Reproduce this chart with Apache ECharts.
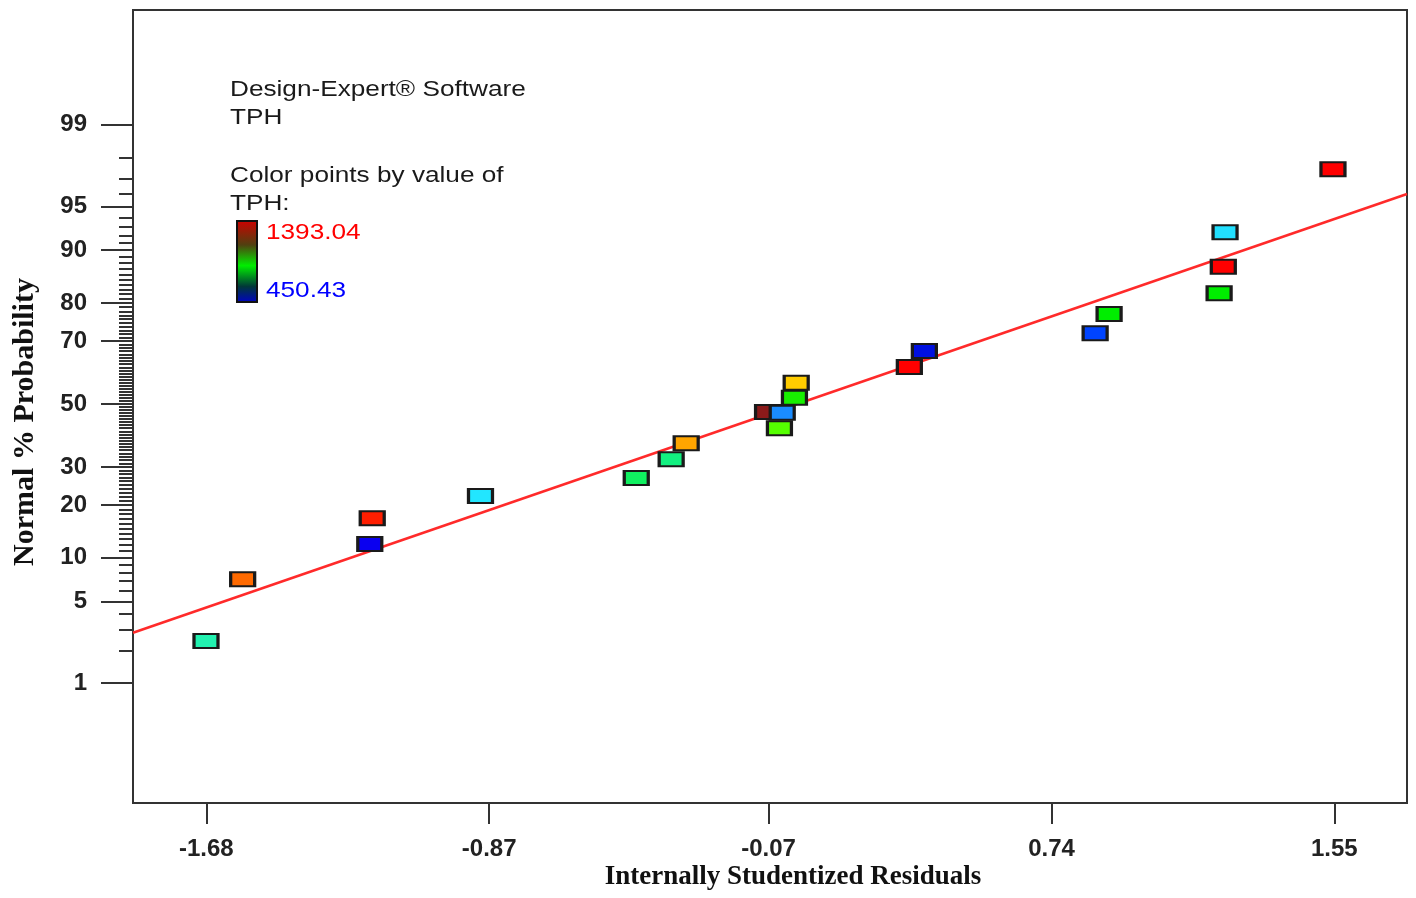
<!DOCTYPE html>
<html>
<head>
<meta charset="utf-8">
<script src="https://cdn.jsdelivr.net/npm/echarts@6/dist/echarts.min.js"></script>
<style>html,body{margin:0;padding:0;background:#fff;}#chart{width:1416px;height:898px;}</style>
</head>
<body>
<div id="chart"></div>
<script>
// ---- data ----
const residuals = [-1.681, -1.576, -1.205, -1.212, -0.895, -0.449, -0.349, -0.306, -0.073, -0.031, -0.039, 0.004, 0.009, 0.333, 0.376, 0.865, 0.905, 1.220, 1.232, 1.237, 1.546];
const probabilities = [2.41, 7.20, 17.04, 12.17, 22.16, 26.87, 32.25, 37.16, 47.34, 47.11, 41.98, 52.09, 57.04, 62.11, 67.06, 72.21, 77.34, 82.19, 87.37, 92.38, 97.48];
const pointColors = ['#22f2b0', '#ff6a00', '#ff1e00', '#0a00f0', '#22e6ff', '#10f060', '#12f080', '#ffa500', '#8b1a1a', '#1a8cff', '#55ff00', '#18f000', '#ffcc00', '#ff0000', '#0010e0', '#0044ff', '#00ee00', '#00ee00', '#ff0000', '#22e0ff', '#ff0000'];
const fitLineX = [-1.890, 1.758];
const fitLineProb = [2.83, 95.99];
const xTickLabels = [-1.68, -0.87, -0.07, 0.74, 1.55];
const yMajorTickLabels = [1, 5, 10, 20, 30, 50, 70, 80, 90, 95, 99];
const colorScaleLabels = ['1393.04', '450.43'];
const legendLines = ['Design-Expert\u00ae Software', 'TPH', 'Color points by value of', 'TPH:'];
const xTitle = 'Internally Studentized Residuals';
const yTitle = 'Normal % Probability';

// inverse standard normal CDF (probit scale of the y axis)
function probit(p) {
  const a = [-3.969683028665376e+01, 2.209460984245205e+02, -2.759285104469687e+02, 1.383577518672690e+02, -3.066479806614716e+01, 2.506628277459239e+00];
  const b = [-5.447609879822406e+01, 1.615858368580409e+02, -1.556989798598866e+02, 6.680131188771972e+01, -1.328068155288572e+01];
  const c = [-7.784894002430293e-03, -3.223964580411365e-01, -2.400758277161838e+00, -2.549732539343734e+00, 4.374664141464968e+00, 2.938163982698783e+00];
  const d = [7.784695709041462e-03, 3.224671290700398e-01, 2.445134137142996e+00, 3.754408661907416e+00];
  const pl = 0.02425, ph = 1 - pl;
  let q, r;
  if (p < pl) {
    q = Math.sqrt(-2 * Math.log(p));
    return (((((c[0]*q+c[1])*q+c[2])*q+c[3])*q+c[4])*q+c[5]) / ((((d[0]*q+d[1])*q+d[2])*q+d[3])*q+1);
  }
  if (p <= ph) {
    q = p - 0.5; r = q * q;
    return (((((a[0]*r+a[1])*r+a[2])*r+a[3])*r+a[4])*r+a[5])*q / (((((b[0]*r+b[1])*r+b[2])*r+b[3])*r+b[4])*r+1);
  }
  q = Math.sqrt(-2 * Math.log(1 - p));
  return -(((((c[0]*q+c[1])*q+c[2])*q+c[3])*q+c[4])*q+c[5]) / ((((d[0]*q+d[1])*q+d[2])*q+d[3])*q+1);
}
const z = pct => probit(pct / 100);

const yMinorTicks = [];
for (let i = 1; i <= 99; i++) yMinorTicks.push(z(i));
const yMajorZ = yMajorTickLabels.map(z);

const scatterData = residuals.map((x, i) => ({
  value: [x, z(probabilities[i])],
  itemStyle: { color: pointColors[i] }
}));
const lineData = fitLineX.map((x, i) => [x, z(fitLineProb[i])]);

const tickFont = { fontFamily: 'Liberation Sans, Arial, sans-serif', fontWeight: 'bold', fontSize: 24, color: '#222' };
const legendFont = 'Liberation Sans, Arial, sans-serif';

const chart = echarts.init(document.getElementById('chart'), null, { renderer: 'canvas' });
chart.setOption({
  backgroundColor: '#fff',
  animation: false,
  grid: { left: 133, right: 9, top: 10, bottom: 95, show: true, borderColor: '#333', borderWidth: 2, backgroundColor: 'transparent' },
  xAxis: {
    type: 'value', min: -1.890, max: 1.758, position: 'bottom',
    axisLine: { show: false, onZero: false },
    splitLine: { show: false },
    axisTick: { show: true, inside: false, length: 21, customValues: xTickLabels, lineStyle: { color: '#333', width: 2 } },
    axisLabel: { show: true, customValues: xTickLabels, margin: 34, formatter: v => v.toFixed(2), ...tickFont }
  },
  yAxis: [
    {
      type: 'value', min: -3.325, max: 3.283, position: 'left',
      axisLine: { show: false, onZero: false },
      splitLine: { show: false },
      axisTick: { show: true, inside: false, length: 32, customValues: yMajorZ, lineStyle: { color: '#333', width: 2 } },
      axisLabel: {
        show: true, customValues: yMajorZ, margin: 46,
        formatter: v => {
          let best = 0, bd = 1e9;
          yMajorZ.forEach((t, i) => { const dd = Math.abs(t - v); if (dd < bd) { bd = dd; best = i; } });
          return String(yMajorTickLabels[best]);
        },
        ...tickFont
      }
    },
    {
      type: 'value', min: -3.325, max: 3.283, position: 'left', offset: 0,
      axisLine: { show: false, onZero: false },
      splitLine: { show: false },
      axisTick: { show: true, inside: false, length: 14, customValues: yMinorTicks, lineStyle: { color: '#333', width: 2 } },
      axisLabel: { show: false }
    }
  ],
  series: [
    {
      type: 'line', data: lineData, yAxisIndex: 0, symbol: 'none', silent: true,
      lineStyle: { color: '#ff2a2a', width: 2.5 }, z: 1
    },
    {
      type: 'scatter', data: scatterData, yAxisIndex: 0, symbol: 'rect', symbolSize: [24, 14],
      itemStyle: { borderColor: '#1a1a1a', borderWidth: 2.5, opacity: 1 }, z: 2
    }
  ],
  graphic: [
    { type: 'text', x: 230, y: 90, scaleX: 1.19, style: { text: legendLines[0], font: '22px ' + legendFont, fill: '#1a1a1a', verticalAlign: 'middle', align: 'left' } },
    { type: 'text', x: 230, y: 118, scaleX: 1.19, style: { text: legendLines[1], font: '22px ' + legendFont, fill: '#1a1a1a', verticalAlign: 'middle', align: 'left' } },
    { type: 'text', x: 230, y: 176, scaleX: 1.19, style: { text: legendLines[2], font: '22px ' + legendFont, fill: '#1a1a1a', verticalAlign: 'middle', align: 'left' } },
    { type: 'text', x: 230, y: 204, scaleX: 1.19, style: { text: legendLines[3], font: '22px ' + legendFont, fill: '#1a1a1a', verticalAlign: 'middle', align: 'left' } },
    {
      type: 'rect', shape: { x: 237, y: 221, width: 20, height: 81 },
      style: {
        fill: new echarts.graphic.LinearGradient(0, 0, 0, 1, [
          { offset: 0, color: '#d00000' },
          { offset: 0.3, color: '#504010' },
          { offset: 0.55, color: '#00ee00' },
          { offset: 0.8, color: '#003838' },
          { offset: 1, color: '#0000c8' }
        ]),
        stroke: '#111', lineWidth: 2
      }
    },
    { type: 'text', x: 266, y: 233, scaleX: 1.19, style: { text: colorScaleLabels[0], font: '22px ' + legendFont, fill: '#ff0000', verticalAlign: 'middle', align: 'left' } },
    { type: 'text', x: 266, y: 291, scaleX: 1.19, style: { text: colorScaleLabels[1], font: '22px ' + legendFont, fill: '#0000ff', verticalAlign: 'middle', align: 'left' } },
    { type: 'text', x: 793, y: 877, style: { text: xTitle, font: 'bold 27px Liberation Serif, Times New Roman, serif', fill: '#111', verticalAlign: 'middle', align: 'center' } },
    { type: 'text', x: 25, y: 422, rotation: Math.PI / 2, style: { text: yTitle, font: 'bold 30px Liberation Serif, Times New Roman, serif', fill: '#111', verticalAlign: 'middle', align: 'center' } }
  ]
});
</script>
</body>
</html>
